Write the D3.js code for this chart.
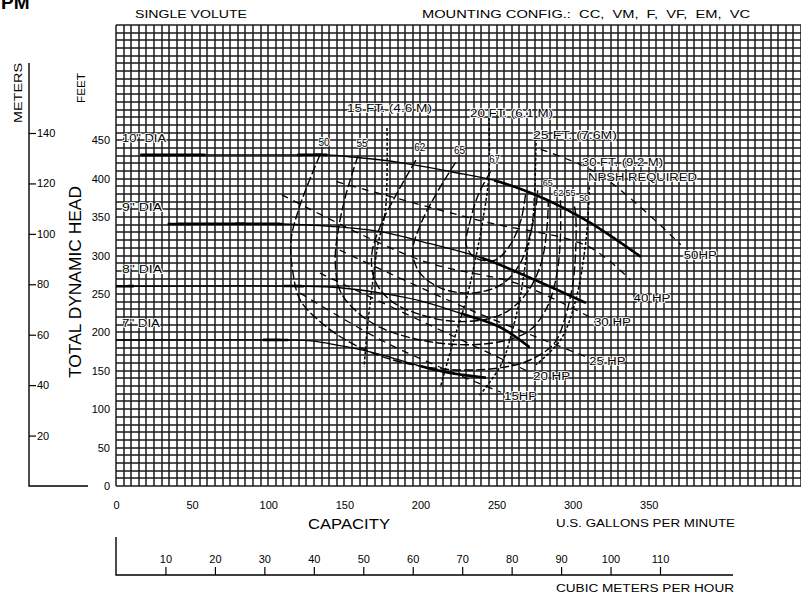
<!DOCTYPE html>
<html>
<head>
<meta charset="utf-8">
<script src="https://cdn.jsdelivr.net/npm/d3@7"></script>
<style>
  body { margin: 0; background: #fff; }
  svg text { font-family: "Liberation Sans", Arial, sans-serif; fill: #000; }
</style>
</head>
<body>
<div id="chart"></div>
<script>
// ---- data (gpm, feet) ----
const gpmTicks = [0, 50, 100, 150, 200, 250, 300, 350];
const feetTicks = [0, 50, 100, 150, 200, 250, 300, 350, 400, 450];
const meterTicks = [20, 40, 60, 80, 100, 120, 140];
const m3hTicks = [10, 20, 30, 40, 50, 60, 70, 80, 90, 100, 110];

// impeller diameter head-capacity curves
const diaLabels = ['10" DIA', '9" DIA', '8" DIA', '7" DIA'];
const dia10 = [[16, 431], [59, 431], [119, 431], [139, 431], [156, 428], [187, 421], [220, 409], [248, 398], [279, 376], [312, 342], [345, 298]];
const dia9 = [[34, 341], [110, 341], [141, 338], [174, 331], [207, 315], [240, 297], [272, 271], [309, 238]];
const dia8 = [[0, 260], [124, 260], [147, 258], [174, 251], [200, 241], [226, 225], [253, 206], [272, 180]];
const dia7 = [[0, 190], [113, 190], [128, 189], [152, 181], [174, 171], [200, 156], [220, 147], [243, 141]];
// gpm ranges where the curves are printed heavy
const diaBold = [
    [[16, 59], [119, 139], [248, 345]],
    [[34, 110], [240, 309]],
    [[0, 12], [110, 124], [226, 272]],
    [[96, 113], [200, 243]]
];

// efficiency contours (%)
const effLabels = ['50', '55', '62', '65', '67'];
const effRightLabels = ['65', '62', '55', '50'];
const eff50 = [[134, 431], [121, 366], [115, 320], [116, 281], [121, 242], [134, 214], [151, 190], [174, 169], [200, 156], [226, 151], [253, 154], [272, 164], [288, 186], [295, 219], [300, 262], [302, 307], [302, 353], [301, 366]];
const eff55 = [[159, 430], [151, 379], [146, 333], [144, 294], [147, 255], [157, 229], [174, 206], [200, 190], [226, 184], [253, 188], [272, 203], [284, 236], [290, 281], [292, 327], [292, 372]];
const eff62 = [[197, 424], [184, 379], [174, 340], [168, 301], [170, 268], [180, 242], [200, 223], [226, 214], [253, 223], [269, 249], [279, 288], [283, 333], [284, 372]];
const eff65 = [[223, 421], [210, 379], [200, 340], [195, 307], [199, 279], [213, 258], [233, 251], [253, 262], [265, 288], [272, 327], [276, 366], [277, 385]];
const eff67 = [[246, 409], [238, 379], [232, 340], [230, 314], [236, 297], [249, 294], [259, 314], [266, 346], [269, 379]];

// NPSH required lines
const npshLabels = ['15 FT. (4.6 M)', '20 FT. (6.1 M)', '25 FT. (7.6M)', '30 FT. (9.2 M)'];
const npsh15 = [[178, 466], [177, 359], [172, 314], [168, 255], [165, 203], [163, 155]];
const npsh20 = [[245, 479], [245, 405], [241, 346], [236, 294], [230, 242], [221, 184], [213, 128]];
const npsh25 = [[276, 453], [274, 350], [270, 303], [266, 251], [261, 207], [253, 158], [238, 116]];
const npsh30 = [[311, 389], [309, 324], [302, 242], [292, 190], [276, 158]];

// horsepower lines
const hpLabels = ['15HP', '20 HP', '25 HP', '30 HP', '40 HP', '50HP'];
const hp15 = [[121, 251], [180, 184], [253, 122]];
const hp20 = [[134, 277], [213, 203], [272, 148]];
const hp25 = [[147, 307], [233, 229], [309, 168]];
const hp30 = [[109, 379], [200, 294], [266, 262], [312, 219]];
const hp40 = [[145, 396], [240, 345], [310, 312], [338, 268]];
const hp50 = [[279, 438], [318, 405], [371, 314]];

// ---- canvas ----
const width = 801, height = 597;
const svg = d3.select('#chart')
    .append('svg')
    .attr('width', width)
    .attr('height', height)
    .attr('viewBox', [0, 0, width, height]);

const x = d3.scaleLinear().domain([0, 450]).range([116, 801]);
const y = d3.scaleLinear().domain([0, 600]).range([486, 25]);
const yM = d3.scaleLinear().domain([0, 140]).range([486, 133]);
const xM = d3.scaleLinear().domain([0, 110]).range([116, 660]);

// grid: 5 gpm x 10 ft
const grid = svg.append('g').attr('stroke', '#1a1a1a').attr('stroke-width', 1.5);
grid.selectAll('line.v')
    .data(d3.range(0, 451, 5))
    .join('line')
    .attr('class', 'v')
    .attr('x1', (d) => Math.round(x(d)))
    .attr('x2', (d) => Math.round(x(d)))
    .attr('y1', y(600))
    .attr('y2', y(0));
grid.selectAll('line.h')
    .data(d3.range(0, 601, 10))
    .join('line')
    .attr('class', 'h')
    .attr('y1', (d) => Math.round(y(d)))
    .attr('y2', (d) => Math.round(y(d)))
    .attr('x1', x(0))
    .attr('x2', x(450));

// ---- axes ----
const font = '"Liberation Sans", Arial, sans-serif';
const feetAxis = svg.append('g')
    .attr('transform', `translate(${x(0)},0)`)
    .call(d3.axisLeft(y).tickValues(feetTicks).tickSize(0).tickPadding(6));
feetAxis.select('.domain').remove();
feetAxis.selectAll('text').attr('font-size', 11).attr('font-family', font);

const meterAxis = svg.append('g')
    .attr('transform', 'translate(29,0)')
    .call(d3.axisRight(yM).tickValues(meterTicks).tickSize(7).tickPadding(1).tickFormat(d3.format('d')));
meterAxis.select('.domain').remove();
meterAxis.selectAll('line').attr('stroke-width', 1.2);
meterAxis.selectAll('text').attr('font-size', 11).attr('font-family', font);
svg.append('path')
    .attr('d', `M29,63V${y(0)}H88`)
    .attr('fill', 'none')
    .attr('stroke', '#000')
    .attr('stroke-width', 1.4);

const gpmAxis = svg.append('g')
    .attr('transform', `translate(0,${y(0)})`)
    .call(d3.axisBottom(x).tickValues(gpmTicks).tickSize(0).tickPadding(15));
gpmAxis.select('.domain').remove();
gpmAxis.selectAll('text').attr('font-size', 11).attr('font-family', font);

const m3hAxis = svg.append('g')
    .attr('transform', 'translate(0,575)')
    .call(d3.axisTop(xM).tickValues(m3hTicks).tickSize(8).tickPadding(4));
m3hAxis.select('.domain').remove();
m3hAxis.selectAll('line').attr('stroke-width', 1.2);
m3hAxis.selectAll('text').attr('font-size', 11).attr('font-family', font);
svg.append('path')
    .attr('d', `M${xM(0)},537V575H733`)
    .attr('fill', 'none')
    .attr('stroke', '#000')
    .attr('stroke-width', 1.4);

// ---- titles ----
const txt = (t, tx, ty, size, opts = {}) => {
    const el = svg.append('text')
        .attr('x', tx)
        .attr('y', ty)
        .attr('font-size', size)
        .attr('text-anchor', opts.anchor || 'start')
        .attr('font-weight', opts.weight || null)
        .text(t);
    if (opts.len) el.attr('textLength', opts.len).attr('lengthAdjust', 'spacingAndGlyphs');
    if (opts.rotate) el.attr('transform', `rotate(-90,${tx},${ty})`);
    return el;
};

txt('PM', 1, 9, 19, { weight: 'bold' });
txt('SINGLE VOLUTE', 135, 18, 11, { len: 112 });
txt('MOUNTING CONFIG.:  CC,  VM,  F,  VF,  EM,  VC', 422, 18, 11, { len: 328 }).attr('xml:space', 'preserve');
txt('METERS', 22, 93, 11, { rotate: true, anchor: 'middle', len: 60 });
txt('FEET', 85, 88, 11, { rotate: true, anchor: 'middle', len: 30 });
txt('TOTAL DYNAMIC HEAD', 81, 282, 16, { rotate: true, anchor: 'middle', len: 192 });
txt('CAPACITY', 349, 529, 14, { anchor: 'middle', len: 82 });
txt('U.S. GALLONS PER MINUTE', 556, 527, 10, { len: 179 });
txt('CUBIC METERS PER HOUR', 556, 592, 10, { len: 178 });

// ---- curves ----
const line = d3.line().x((d) => x(d[0])).y((d) => y(d[1])).curve(d3.curveCatmullRom);
const plot = svg.append('g').attr('fill', 'none').attr('stroke', '#000');

// efficiency contours
const effCurves = [eff50, eff55, eff62, eff65, eff67];
plot.selectAll('path.eff')
    .data(effCurves)
    .join('path')
    .attr('class', 'eff')
    .attr('d', line)
    .attr('stroke-width', 1.4)
    .attr('stroke-dasharray', '9,3');

// NPSH lines
const npshCurves = [npsh15, npsh20, npsh25, npsh30];
plot.selectAll('path.npsh')
    .data(npshCurves)
    .join('path')
    .attr('class', 'npsh')
    .attr('d', line)
    .attr('stroke-width', 1.5)
    .attr('stroke-dasharray', '3,2');

// HP lines
const hpCurves = [hp15, hp20, hp25, hp30, hp40, hp50];
plot.selectAll('path.hp')
    .data(hpCurves)
    .join('path')
    .attr('class', 'hp')
    .attr('d', line)
    .attr('stroke-width', 1.3)
    .attr('stroke-dasharray', '7,6');

// diameter curves: thin full line, heavy overlay on bold ranges
const diaCurves = [dia10, dia9, dia8, dia7];
plot.selectAll('path.dia')
    .data(diaCurves)
    .join('path')
    .attr('class', 'dia')
    .attr('d', line)
    .attr('stroke-width', 1.3);

diaCurves.forEach((curve, i) => {
    const path = plot.append('path').attr('d', line(curve)).attr('stroke', 'none').node();
    const total = path.getTotalLength();
    diaBold[i].forEach(([g0, g1]) => {
        const pts = [];
        for (let s = 0; s <= total; s += 1) {
            const p = path.getPointAtLength(s);
            const g = x.invert(p.x);
            if (g >= g0 && g <= g1) pts.push([p.x, p.y]);
        }
        if (pts.length > 1) {
            plot.append('path').attr('d', d3.line()(pts)).attr('stroke-width', 2.6);
        }
    });
});

// ---- curve labels ----
const labelG = svg.append('g');
const lab = (t, px, py, size = 10, anchor = 'start', len = null) => {
    const el = labelG.append('text')
        .attr('x', px)
        .attr('y', py)
        .attr('font-size', size)
        .attr('text-anchor', anchor)
        .attr('stroke', '#fff')
        .attr('stroke-width', 1.6)
        .attr('paint-order', 'stroke')
        .text(t);
    if (len) el.attr('textLength', len).attr('lengthAdjust', 'spacingAndGlyphs');
    return el;
};

diaCurves.forEach((c, i) => {
    lab(diaLabels[i], x(0) + 6, y(c[0][1]) - 13, 10, 'start', [44, 40, 40, 38][i]);
});

effCurves.forEach((c, i) => {
    const a = c[0];
    lab(effLabels[i], x(a[0]) + 4, y(a[1]) - 9, 10, 'middle');
});
// right-hand ends of the open contours
[eff65, eff62, eff55, eff50].forEach((c, i) => {
    const b = c[c.length - 1];
    lab(effRightLabels[i], x(b[0]) + 5, y(b[1]) - 4, 9, 'start');
});

// NPSH labels sit above the tops of their lines
const npshAt = [[347, 112], [470, 117], [533, 139], [582, 166]];
npshCurves.forEach((c, i) => {
    lab(npshLabels[i], npshAt[i][0], npshAt[i][1], 10, 'start', [85, 83, 84, 81][i]);
});
lab('NPSH REQUIRED', 588, 181, 10, 'start', 109);

hpCurves.forEach((c, i) => {
    const b = c[c.length - 1];
    const dy = [8, 8, 8, 8, 22, 14][i];
    lab(hpLabels[i], x(b[0]) + 3, y(b[1]) + dy, 10, 'start', [33, 37, 36, 37, 37, 33][i]);
});
</script>
</body>
</html>
